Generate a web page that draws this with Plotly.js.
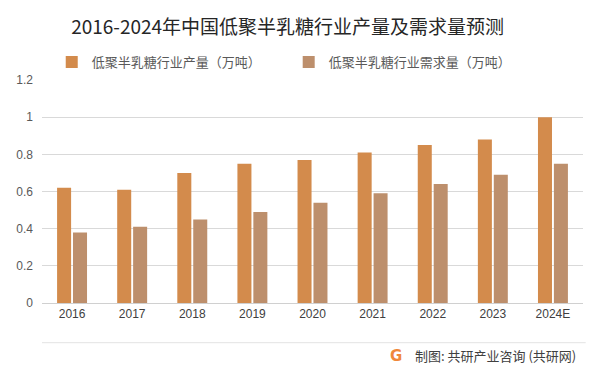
<!DOCTYPE html>
<html>
<head>
<meta charset="utf-8">
<script src="https://cdn.plot.ly/plotly-3.0.1.min.js"></script>
<style>html,body{margin:0;padding:0;background:#fff;}#chart{width:600px;height:369px;}</style>
</head>
<body>
<div id="chart"></div>
<script>
const categories = ["2016","2017","2018","2019","2020","2021","2022","2023","2024E"];
const production = [0.62,0.61,0.70,0.75,0.77,0.81,0.85,0.88,1.00];
const demand = [0.38,0.41,0.45,0.49,0.54,0.59,0.64,0.69,0.75];
const seriesNames = ["低聚半乳糖行业产量（万吨）","低聚半乳糖行业需求量（万吨）"];
const yTicks = [0,0.2,0.4,0.6,0.8,1,1.2];
const titleText = "2016-2024年中国低聚半乳糖行业产量及需求量预测";
const sourceText = "制图: 共研产业咨询 (共研网)";

const FONT = "'Noto Sans CJK SC', 'Noto Sans', sans-serif";

const traces = [
  {type:"bar", x:categories, y:production, name:seriesNames[0], marker:{color:"#D38B4C"}, hoverinfo:"none", legend:"legend"},
  {type:"bar", x:categories, y:demand, name:seriesNames[1], marker:{color:"#BD8F6C"}, hoverinfo:"none", legend:"legend2"}
];

const legendBase = {orientation:"h", xanchor:"left", y:1.081, yanchor:"middle",
  font:{family:FONT, size:13, color:"#595959"}, itemwidth:30, bgcolor:"rgba(0,0,0,0)"};

const layout = {
  width:600, height:369,
  margin:{l:42, r:17, t:80, b:66, pad:0},
  paper_bgcolor:"#fff", plot_bgcolor:"#fff",
  font:{family:FONT, color:"#595959"},
  title:{text:titleText, x:0.454, xanchor:"center", xref:"paper", y:0.925, yref:"container", yanchor:"middle",
         font:{family:FONT, size:19, color:"#262626"}},
  barmode:"group", bargap:0.47, bargroupgap:0.12,
  showlegend:true,
  legend:Object.assign({}, legendBase, {x:0.018}),
  legend2:Object.assign({}, legendBase, {x:0.456}),
  xaxis:{type:"category", tickfont:{family:"'Liberation Sans', Arial, sans-serif", size:12, color:"#404040"},
         showgrid:false, showline:true, linecolor:"#d0d0d0", linewidth:1, ticks:"", ticklen:0,
         zeroline:false, fixedrange:true},
  yaxis:{range:[0,1.2], tickvals:yTicks, ticktext:yTicks.map(String),
         tickfont:{family:"'Liberation Sans', Arial, sans-serif", size:12, color:"#595959"},
         showgrid:true, gridcolor:"#d9d9d9", gridwidth:1, zeroline:false, showline:false, ticks:"",
         ticklabelstandoff:8, fixedrange:true},
  shapes:[
    {type:"line", xref:"paper", yref:"paper", x0:0, x1:1.005, y0:-0.178, y1:-0.178,
     line:{color:"#e3e3e3", width:1}}
  ],
  annotations:[
    {text:sourceText, xref:"paper", yref:"paper", x:0.99, y:-0.236, xanchor:"right", yanchor:"middle",
     showarrow:false, font:{family:FONT, size:13, color:"#404040"}},
    {text:"<b>G</b>", xref:"paper", yref:"paper", x:0.655, y:-0.236, xanchor:"center", yanchor:"middle",
     showarrow:false, font:{family:"'DejaVu Sans', sans-serif", size:15, color:"#F0883A"}}
  ]
};

Plotly.newPlot("chart", traces, layout, {displayModeBar:false, staticPlot:true});
</script>
</body>
</html>
